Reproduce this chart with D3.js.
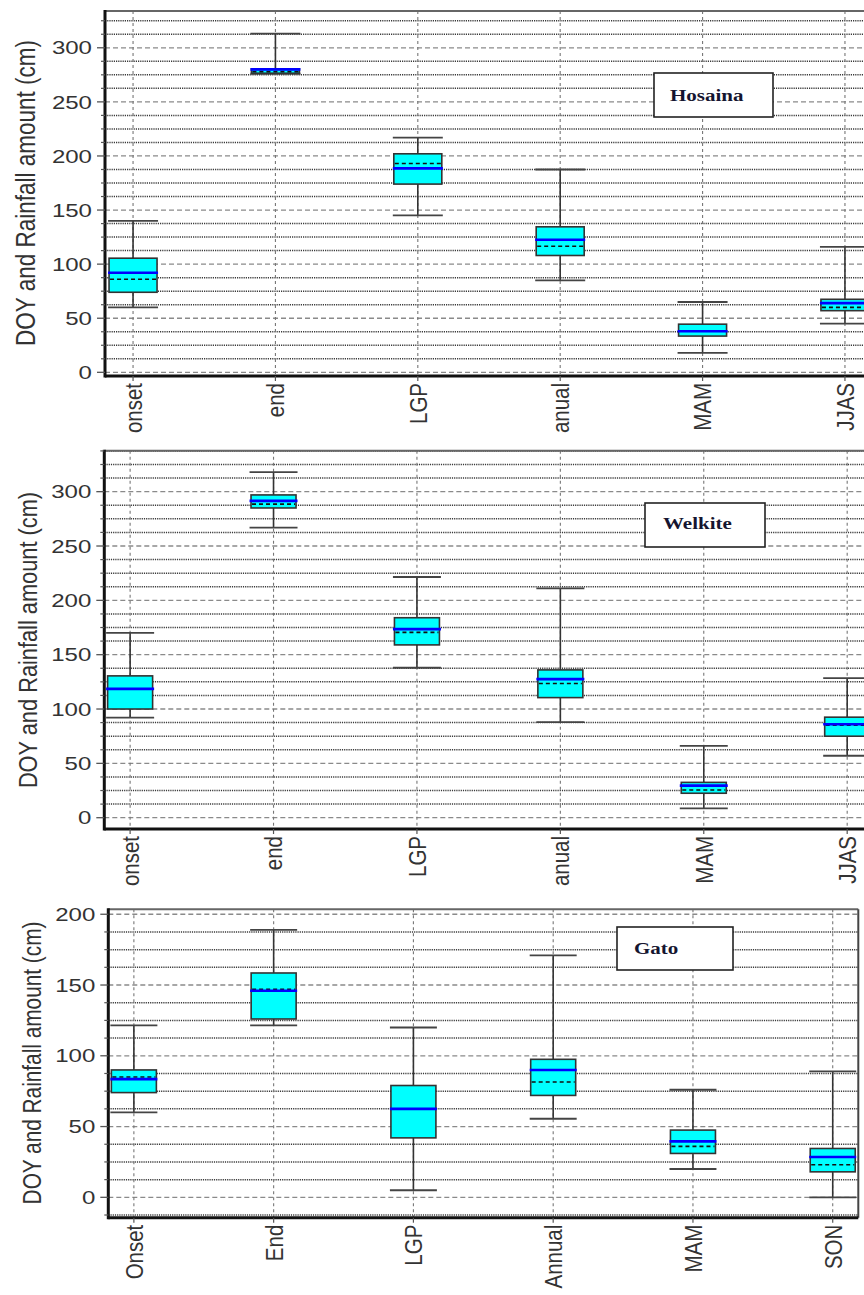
<!DOCTYPE html>
<html>
<head>
<meta charset="utf-8">
<script src="https://cdn.jsdelivr.net/npm/d3@7"></script>
<style>
  html, body { margin: 0; padding: 0; background: #fff; }
  svg { display: block; }
</style>
</head>
<body>
<svg id="chart" width="864" height="1295"></svg>
<script>
// ---------------- DATA ----------------
const categoriesHosaina = ["onset", "end", "LGP", "anual", "MAM", "JJAS"];
const categoriesWelkite = ["onset", "end", "LGP", "anual", "MAM", "JJAS"];
const categoriesGato    = ["Onset", "End", "LGP", "Annual", "MAM", "SON"];

const hosainaMin    = [60,   276,   145,   85,    18,   45];
const hosainaQ1     = [74,   276.5, 174,   108,   33.5, 57];
const hosainaMedian = [92,   280,   188.5, 122.5, 38,   64];
const hosainaMean   = [86,   278,   193,   116.5, 38,   60];
const hosainaQ3     = [105.5,280.5, 202,   134.5, 44.5, 67.5];
const hosainaMax    = [140,  313,   217,   187.5, 65,   116];

const welkiteMin    = [92,    267,   138,   88,    8.5,  57];
const welkiteQ1     = [100,   285,   159,   110.5, 22.5, 75];
const welkiteMedian = [118.5, 291.5, 173.5, 127.5, 29.5, 86];
const welkiteMean   = [118.5, 288.5, 170.5, 123.5, 25.5, 85];
const welkiteQ3     = [130.5, 297,   184,   136,   32.5, 92.5];
const welkiteMax    = [170,   318,   221.5, 211,   66,   128.5];

const gatoMin    = [60,   121.5, 5,    55.5, 20,   0];
const gatoQ1     = [74,   126,   42,   72,   31,   18];
const gatoMedian = [83.5, 146,   62.5, 90,   39.5, 28.5];
const gatoMean   = [85,   147,   62.5, 81.5, 36,   23];
const gatoQ3     = [90,   158.5, 79,   97.5, 47.5, 34.5];
const gatoMax    = [121.5,189,   120,  171,  76,   89];

const ticksHosaina = [0, 50, 100, 150, 200, 250, 300];
const ticksWelkite = [0, 50, 100, 150, 200, 250, 300];
const ticksGato    = [0, 50, 100, 150, 200];

const yTitle = "DOY and Rainfall amount (cm)";
const stationNames = ["Hosaina", "Welkite", "Gato"];

// ---------------- LAYOUT ----------------
const panels = [
  { name: stationNames[0], cats: categoriesHosaina, ticks: ticksHosaina,
    min: hosainaMin, q1: hosainaQ1, med: hosainaMedian, mean: hosainaMean, q3: hosainaQ3, max: hosainaMax,
    x0: 105, x1: 873, y0: 11, y1: 376, domain: [-3.4, 334], pad: 0.197,
    boxHalf: 24, capHalf: 25, titleX: 25, titleY: 193, titleSize: 22.5,
    lbl: { x: 654, y: 73, w: 119, h: 44, tx: 670, ty: 100.5 }, rightBorder: false },
  { name: stationNames[1], cats: categoriesWelkite, ticks: ticksWelkite,
    min: welkiteMin, q1: welkiteQ1, med: welkiteMedian, mean: welkiteMean, q3: welkiteQ3, max: welkiteMax,
    x0: 104.3, x1: 873, y0: 450.7, y1: 829, domain: [-10.4, 337.7], pad: 0.18,
    boxHalf: 22.5, capHalf: 24, titleX: 28, titleY: 640, titleSize: 21.8,
    lbl: { x: 645, y: 503, w: 120, h: 44, tx: 663, ty: 529 }, rightBorder: false },
  { name: stationNames[2], cats: categoriesGato, ticks: ticksGato,
    min: gatoMin, q1: gatoQ1, med: gatoMedian, mean: gatoMean, q3: gatoQ3, max: gatoMax,
    x0: 108.3, x1: 858.3, y0: 909.3, y1: 1217.7, domain: [-14.4, 203.5], pad: 0.183,
    boxHalf: 22.5, capHalf: 23.5, titleX: 32, titleY: 1063, titleSize: 20.8,
    lbl: { x: 617, y: 927, w: 116, h: 43, tx: 634, ty: 954 }, rightBorder: true }
];

const svg = d3.select("#chart");
const TEXT = "#333";
const FONT = "Arial, 'Liberation Sans', sans-serif";

panels.forEach(p => {
  const g = svg.append("g");
  const y = d3.scaleLinear().domain(p.domain).range([p.y1, p.y0]);
  const x = d3.scalePoint().domain(p.cats).range([p.x0, p.x1]).padding(p.pad);

  g.append("rect").attr("x", p.x0).attr("y", p.y0)
    .attr("width", p.x1 - p.x0).attr("height", p.y1 - p.y0).attr("fill", "#fff");

  // minor gridlines every 12.5
  const minor = d3.range(Math.ceil(p.domain[0] / 12.5) * 12.5, p.domain[1], 12.5)
    .filter(v => Math.abs(v % 50) > 1e-6);
  g.append("g").selectAll("line").data(minor).join("line")
    .attr("x1", p.x0).attr("x2", p.x1)
    .attr("y1", d => y(d)).attr("y2", d => y(d))
    .attr("stroke", "#3a3a3a").attr("stroke-width", 1.5).attr("stroke-dasharray", "1.2,1");

  // major dashed gridlines
  g.append("g").selectAll("line").data(p.ticks).join("line")
    .attr("x1", p.x0).attr("x2", p.x1)
    .attr("y1", d => y(d)).attr("y2", d => y(d))
    .attr("stroke", "#8a8a8a").attr("stroke-width", 1.3).attr("stroke-dasharray", "5,3");

  // vertical gridlines
  g.append("g").selectAll("line").data(p.cats).join("line")
    .attr("x1", d => x(d)).attr("x2", d => x(d))
    .attr("y1", p.y0).attr("y2", p.y1)
    .attr("stroke", "#777").attr("stroke-width", 1.1).attr("stroke-dasharray", "3,3");

  // boxes
  const idx = d3.range(p.cats.length);
  const bx = g.append("g").selectAll("g").data(idx).join("g");
  bx.append("line").attr("x1", i => x(p.cats[i])).attr("x2", i => x(p.cats[i]))
    .attr("y1", i => y(p.max[i])).attr("y2", i => y(p.q3[i]))
    .attr("stroke", "#333").attr("stroke-width", 1.6);
  bx.append("line").attr("x1", i => x(p.cats[i])).attr("x2", i => x(p.cats[i]))
    .attr("y1", i => y(p.q1[i])).attr("y2", i => y(p.min[i]))
    .attr("stroke", "#333").attr("stroke-width", 1.6);
  bx.append("line").attr("x1", i => x(p.cats[i]) - p.capHalf).attr("x2", i => x(p.cats[i]) + p.capHalf)
    .attr("y1", i => y(p.max[i])).attr("y2", i => y(p.max[i]))
    .attr("stroke", "#444").attr("stroke-width", 1.8);
  bx.append("line").attr("x1", i => x(p.cats[i]) - p.capHalf).attr("x2", i => x(p.cats[i]) + p.capHalf)
    .attr("y1", i => y(p.min[i])).attr("y2", i => y(p.min[i]))
    .attr("stroke", "#444").attr("stroke-width", 1.8);
  bx.append("rect").attr("x", i => x(p.cats[i]) - p.boxHalf)
    .attr("y", i => y(p.q3[i]))
    .attr("width", p.boxHalf * 2)
    .attr("height", i => Math.max(1, y(p.q1[i]) - y(p.q3[i])))
    .attr("fill", "#00FFFF").attr("stroke", "#333").attr("stroke-width", 1.6);
  bx.append("line").attr("x1", i => x(p.cats[i]) - p.boxHalf + 1).attr("x2", i => x(p.cats[i]) + p.boxHalf - 1)
    .attr("y1", i => y(p.mean[i])).attr("y2", i => y(p.mean[i]))
    .attr("stroke", "#111").attr("stroke-width", 1.6).attr("stroke-dasharray", "4,3");
  bx.append("line").attr("x1", i => x(p.cats[i]) - p.capHalf).attr("x2", i => x(p.cats[i]) + p.capHalf)
    .attr("y1", i => y(p.med[i])).attr("y2", i => y(p.med[i]))
    .attr("stroke", "#0000FF").attr("stroke-width", 2.6);

  // frame
  g.append("line").attr("x1", p.x0).attr("x2", p.x1).attr("y1", p.y0).attr("y2", p.y0)
    .attr("stroke", "#666").attr("stroke-width", 2);
  if (p.rightBorder) {
    g.append("line").attr("x1", p.x1).attr("x2", p.x1).attr("y1", p.y0).attr("y2", p.y1)
      .attr("stroke", "#444").attr("stroke-width", 2);
  }
  g.append("line").attr("x1", p.x0).attr("x2", p.x1).attr("y1", p.y1).attr("y2", p.y1)
    .attr("stroke", "#111").attr("stroke-width", 3);
  g.append("line").attr("x1", p.x0).attr("x2", p.x0).attr("y1", p.y0 - 1).attr("y2", p.y1 + 1.5)
    .attr("stroke", "#111").attr("stroke-width", 3);

  // y ticks
  g.append("g").selectAll("line").data(p.ticks).join("line")
    .attr("x1", p.x0 - 8).attr("x2", p.x0).attr("y1", d => y(d)).attr("y2", d => y(d))
    .attr("stroke", "#555").attr("stroke-width", 1.3);
  g.append("g").selectAll("line").data(minor).join("line")
    .attr("x1", p.x0 - 4).attr("x2", p.x0).attr("y1", d => y(d)).attr("y2", d => y(d))
    .attr("stroke", "#555").attr("stroke-width", 1.2);
  g.append("g").selectAll("g").data(p.ticks).join("g")
    .attr("transform", d => `translate(${p.x0 - 13},${y(d)}) scale(1.3,1)`)
    .append("text").text(d => d)
    .attr("text-anchor", "end").attr("dy", "0.36em")
    .attr("font-family", FONT).attr("font-size", 18.5).attr("fill", TEXT);

  // x ticks & labels
  g.append("g").selectAll("line").data(p.cats).join("line")
    .attr("x1", d => x(d)).attr("x2", d => x(d)).attr("y1", p.y1).attr("y2", p.y1 + 5)
    .attr("stroke", "#555").attr("stroke-width", 1.2);
  g.append("g").selectAll("g").data(p.cats).join("g")
    .attr("transform", d => `translate(${x(d)},${p.y1 + 7}) scale(1.2,1) rotate(-90)`)
    .append("text").text(d => d)
    .attr("text-anchor", "end").attr("dy", "0.36em")
    .attr("font-family", FONT).attr("font-size", 20.5).attr("fill", TEXT);

  // y title
  g.append("g").attr("transform", `translate(${p.titleX},${p.titleY}) scale(1.2,1) rotate(-90)`)
    .append("text").text(yTitle)
    .attr("text-anchor", "middle").attr("dy", "0.36em")
    .attr("font-family", FONT).attr("font-size", p.titleSize).attr("fill", TEXT);

  // station label box
  g.append("rect").attr("x", p.lbl.x).attr("y", p.lbl.y).attr("width", p.lbl.w).attr("height", p.lbl.h)
    .attr("fill", "#fff").attr("stroke", "#222").attr("stroke-width", 1.6);
  g.append("g").attr("transform", `translate(${p.lbl.tx},${p.lbl.ty}) scale(1.2,1)`)
    .append("text").text(p.name)
    .attr("font-family", "'Liberation Serif', 'Times New Roman', serif")
    .attr("font-weight", "bold").attr("font-size", 17.5).attr("fill", "#151530");
});
</script>
</body>
</html>
